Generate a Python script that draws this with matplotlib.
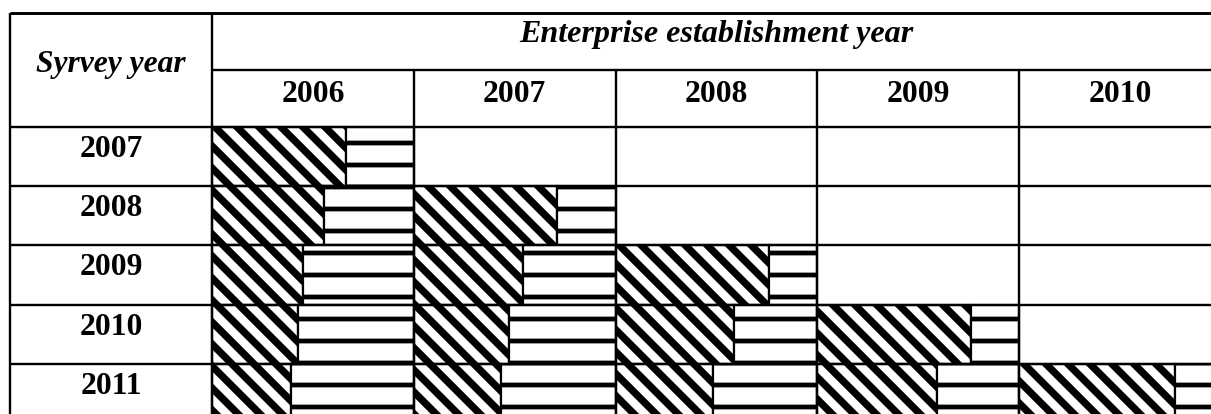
import matplotlib.pyplot as plt

# survey years (rows) and establishment years (columns)
survey_years = ['2007', '2008', '2009', '2010', '2011']
estab_years = ['2006', '2007', '2008', '2009', '2010']

# share of the hatched (diagonal) part of each cell bar, one list per survey year
share_2007 = [0.665]
share_2008 = [0.557, 0.708]
share_2009 = [0.453, 0.542, 0.762]
share_2010 = [0.428, 0.473, 0.584, 0.759]
share_2011 = [0.393, 0.433, 0.480, 0.591, 0.772]
shares = [share_2007, share_2008, share_2009, share_2010, share_2011]

DPI = 132
fig = plt.figure(figsize=(1211 / DPI, 414 / DPI), dpi=DPI)
ax = fig.add_axes([0, 0, 1, 1])
ax.set_xlim(-1.0505, 4.95)
ax.set_ylim(4.848, -2.145)
ax.axis('off')

font = ['Liberation Serif', 'DejaVu Serif']
fs = 17.2
diag_lw = 4.0
horiz_lw = 2.6

# bars: diagonal part then horizontal-line part filling the rest of the cell
for i, row in enumerate(shares):
    for j, v in enumerate(row):
        with plt.rc_context({'hatch.linewidth': diag_lw}):
            b1 = ax.barh(i + 0.5, v, left=j, height=1, color='white',
                         edgecolor='black', hatch='\\\\', linewidth=1.2)
        for p in b1:
            if hasattr(p, 'set_hatch_linewidth'):
                p.set_hatch_linewidth(diag_lw)
        with plt.rc_context({'hatch.linewidth': horiz_lw}):
            b2 = ax.barh(i + 0.5, 1 - v, left=j + v, height=1, color='white',
                         edgecolor='black', hatch='-', linewidth=1.2)
        for p in b2:
            if hasattr(p, 'set_hatch_linewidth'):
                p.set_hatch_linewidth(horiz_lw)

# table grid
lw = 1.3
top, mid = -1.926, -0.963
ax.hlines(top, -1, 5.2, color='black', lw=1.6)
ax.hlines(mid, 0, 5.2, color='black', lw=lw)
ax.hlines(range(0, 6), -1, 5.2, color='black', lw=lw)
ax.vlines([-1, 0], top, 5.5, color='black', lw=lw)
ax.vlines(range(1, 6), mid, 5.5, color='black', lw=lw)

# header texts
ax.text(-0.5, -0.93, 'Syrvey year', ha='center', va='baseline', fontsize=fs,
        family=font, weight='bold', style='italic')
ax.text(2.5, -1.44, 'Enterprise establishment year', ha='center', va='baseline',
        fontsize=fs + 0.3, family=font, weight='bold', style='italic')
for j, lab in enumerate(estab_years):
    ax.text(j + 0.5, -0.422, lab, ha='center', va='baseline', fontsize=fs,
            family=font, weight='bold')
for i, lab in enumerate(survey_years):
    ax.text(-0.5, i + 0.507, lab, ha='center', va='baseline', fontsize=fs,
            family=font, weight='bold')

fig.savefig('out.png', dpi=DPI, facecolor='white')
